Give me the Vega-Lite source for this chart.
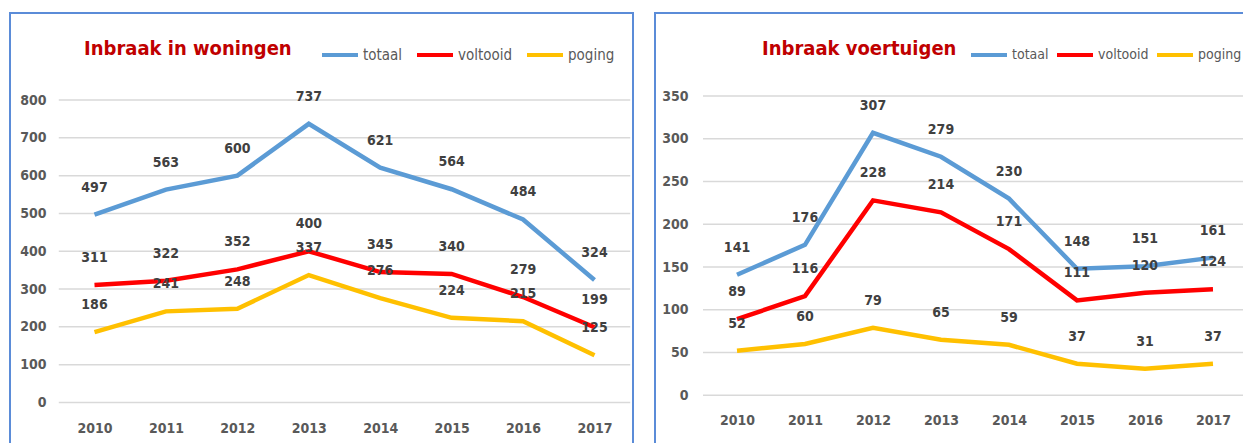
{
  "$schema": "https://vega.github.io/schema/vega-lite/v6.json",
  "padding": {"left": 9, "top": 12, "right": 0, "bottom": 0},
  "background": "white",
  "spacing": 20,
  "config": {
    "view": {"stroke": "#5B8CD8", "strokeWidth": 2},
    "axis": {"grid": false, "domain": false, "ticks": false, "tickSize": 0, "labelPadding": 0,
      "labelFont": "DejaVu Sans Condensed, sans-serif", "labelFontSize": 14,
      "labelFontWeight": "bold", "labelColor": "#595959"},
    "text": {"font": "DejaVu Sans Condensed, sans-serif"}
  },
  "resolve": {"scale": {"color": "independent", "x": "independent", "y": "independent"}, "legend": {"color": "independent"}},
  "datasets": {
    "woningen": [
      {"year": 2010, "series": "totaal", "value": 497}, {"year": 2011, "series": "totaal", "value": 563},
      {"year": 2012, "series": "totaal", "value": 600}, {"year": 2013, "series": "totaal", "value": 737},
      {"year": 2014, "series": "totaal", "value": 621}, {"year": 2015, "series": "totaal", "value": 564},
      {"year": 2016, "series": "totaal", "value": 484}, {"year": 2017, "series": "totaal", "value": 324},
      {"year": 2010, "series": "poging", "value": 186}, {"year": 2011, "series": "poging", "value": 241},
      {"year": 2012, "series": "poging", "value": 248}, {"year": 2013, "series": "poging", "value": 337},
      {"year": 2014, "series": "poging", "value": 276}, {"year": 2015, "series": "poging", "value": 224},
      {"year": 2016, "series": "poging", "value": 215}, {"year": 2017, "series": "poging", "value": 125},
      {"year": 2010, "series": "voltooid", "value": 311}, {"year": 2011, "series": "voltooid", "value": 322},
      {"year": 2012, "series": "voltooid", "value": 352}, {"year": 2013, "series": "voltooid", "value": 400},
      {"year": 2014, "series": "voltooid", "value": 345}, {"year": 2015, "series": "voltooid", "value": 340},
      {"year": 2016, "series": "voltooid", "value": 279}, {"year": 2017, "series": "voltooid", "value": 199}
    ],
    "voertuigen": [
      {"year": 2010, "series": "totaal", "value": 141}, {"year": 2011, "series": "totaal", "value": 176},
      {"year": 2012, "series": "totaal", "value": 307}, {"year": 2013, "series": "totaal", "value": 279},
      {"year": 2014, "series": "totaal", "value": 230}, {"year": 2015, "series": "totaal", "value": 148},
      {"year": 2016, "series": "totaal", "value": 151}, {"year": 2017, "series": "totaal", "value": 161},
      {"year": 2010, "series": "poging", "value": 52}, {"year": 2011, "series": "poging", "value": 60},
      {"year": 2012, "series": "poging", "value": 79}, {"year": 2013, "series": "poging", "value": 65},
      {"year": 2014, "series": "poging", "value": 59}, {"year": 2015, "series": "poging", "value": 37},
      {"year": 2016, "series": "poging", "value": 31}, {"year": 2017, "series": "poging", "value": 37},
      {"year": 2010, "series": "voltooid", "value": 89}, {"year": 2011, "series": "voltooid", "value": 116},
      {"year": 2012, "series": "voltooid", "value": 228}, {"year": 2013, "series": "voltooid", "value": 214},
      {"year": 2014, "series": "voltooid", "value": 171}, {"year": 2015, "series": "voltooid", "value": 111},
      {"year": 2016, "series": "voltooid", "value": 120}, {"year": 2017, "series": "voltooid", "value": 124}
    ],
    "gridW": [{"g": 0}, {"g": 100}, {"g": 200}, {"g": 300}, {"g": 400}, {"g": 500}, {"g": 600}, {"g": 700}, {"g": 800}],
    "gridV": [{"g": 0}, {"g": 50}, {"g": 100}, {"g": 150}, {"g": 200}, {"g": 250}, {"g": 300}, {"g": 350}]
  },
  "hconcat": [
    {
      "width": 623,
      "height": 443,
      "layer": [
        {
          "data": {"name": "gridW"},
          "mark": {"type": "rule", "color": "#D9D9D9", "strokeWidth": 1.5},
          "encoding": {
            "y": {"field": "g", "type": "quantitative", "title": null,
              "scale": {"domain": [-141.5, 1030.1], "nice": false, "zero": false},
              "axis": {"values": [0, 100, 200, 300, 400, 500, 600, 700, 800], "offset": -36}},
            "x": {"datum": 2009.5, "type": "quantitative", "title": null,
              "scale": {"domain": [2008.817, 2017.539], "nice": false, "zero": false},
              "axis": {"values": [2010, 2011, 2012, 2013, 2014, 2015, 2016, 2017], "format": "d", "offset": -35, "labelFlush": false}},
            "x2": {"datum": 2017.5}
          }
        },
        {
          "data": {"name": "woningen"},
          "mark": {"type": "line", "strokeWidth": 4.5},
          "encoding": {
            "x": {"field": "year", "type": "quantitative", "title": null},
            "y": {"field": "value", "type": "quantitative", "title": null},
            "color": {"field": "series", "type": "nominal",
              "scale": {"domain": ["totaal", "voltooid", "poging"], "range": ["#5B9BD5", "#FF0000", "#FFC000"]},
              "legend": {"orient": "none", "legendX": 74, "legendY": 22, "direction": "horizontal",
                "title": "Inbraak in woningen", "titleOrient": "left", "titleFontSize": 20,
                "titleFont": "DejaVu Sans Condensed, sans-serif", "titleFontWeight": "bold",
                "titleColor": "#C00000", "titlePadding": 28, "titleLimit": 400, "gridAlign": "none",
                "symbolType": "stroke", "symbolSize": 1296, "symbolStrokeWidth": 4,
                "labelFont": "DejaVu Sans Condensed, sans-serif", "labelFontSize": 15,
                "labelColor": "#595959", "labelOffset": 3, "columnPadding": 6}}
          }
        },
        {
          "data": {"name": "woningen"},
          "mark": {"type": "text", "dy": -27, "fontSize": 14, "fontWeight": "bold", "color": "#404040"},
          "encoding": {
            "x": {"field": "year", "type": "quantitative", "title": null},
            "y": {"field": "value", "type": "quantitative", "title": null},
            "text": {"field": "value", "type": "quantitative"}
          }
        }
      ]
    },
    {
      "width": 600,
      "height": 443,
      "layer": [
        {
          "data": {"name": "gridV"},
          "mark": {"type": "rule", "color": "#D9D9D9", "strokeWidth": 1.5},
          "encoding": {
            "y": {"field": "g", "type": "quantitative", "title": null,
              "scale": {"domain": [-71.0, 447.1], "nice": false, "zero": false},
              "axis": {"values": [0, 50, 100, 150, 200, 250, 300, 350], "offset": -33}},
            "x": {"datum": 2009.5, "type": "quantitative", "title": null,
              "scale": {"domain": [2008.794, 2017.618], "nice": false, "zero": false},
              "axis": {"values": [2010, 2011, 2012, 2013, 2014, 2015, 2016, 2017], "format": "d", "offset": -43, "labelFlush": false}},
            "x2": {"datum": 2017.5}
          }
        },
        {
          "data": {"name": "voertuigen"},
          "mark": {"type": "line", "strokeWidth": 4.5},
          "encoding": {
            "x": {"field": "year", "type": "quantitative", "title": null},
            "y": {"field": "value", "type": "quantitative", "title": null},
            "color": {"field": "series", "type": "nominal",
              "scale": {"domain": ["totaal", "voltooid", "poging"], "range": ["#5B9BD5", "#FF0000", "#FFC000"]},
              "legend": {"orient": "none", "legendX": 107, "legendY": 22, "direction": "horizontal",
                "title": "Inbraak voertuigen", "titleOrient": "left", "titleFontSize": 20,
                "titleFont": "DejaVu Sans Condensed, sans-serif", "titleFontWeight": "bold",
                "titleColor": "#C00000", "titlePadding": 12, "titleLimit": 400, "gridAlign": "none",
                "symbolType": "stroke", "symbolSize": 1296, "symbolStrokeWidth": 4,
                "labelFont": "DejaVu Sans Condensed, sans-serif", "labelFontSize": 14,
                "labelColor": "#595959", "labelOffset": 3, "columnPadding": 0}}
          }
        },
        {
          "data": {"name": "voertuigen"},
          "mark": {"type": "text", "dy": -27, "fontSize": 14, "fontWeight": "bold", "color": "#404040"},
          "encoding": {
            "x": {"field": "year", "type": "quantitative", "title": null},
            "y": {"field": "value", "type": "quantitative", "title": null},
            "text": {"field": "value", "type": "quantitative"}
          }
        }
      ]
    }
  ]
}
